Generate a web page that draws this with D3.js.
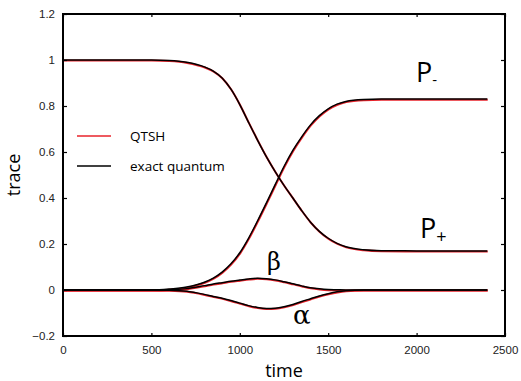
<!DOCTYPE html>
<html>
<head>
<meta charset="utf-8">
<script src="https://cdn.jsdelivr.net/npm/d3@7"></script>
<style>
  body { margin: 0; background: #fff; }
  .tick text { font-family: "Liberation Sans", Arial, sans-serif; font-size: 11.5px; fill: #222; }
</style>
</head>
<body>
<div class="chart"></div>
<script>
// values
const times = [0, 500, 600, 700, 800, 850, 900, 950, 1000, 1050, 1100, 1150, 1200, 1250, 1300, 1350, 1400, 1450, 1500, 1550, 1600, 1700, 1800, 2000, 2400];
const pMinus = [0, 0, 0.004, 0.013, 0.034, 0.052, 0.078, 0.114, 0.162, 0.226, 0.30, 0.378, 0.458, 0.537, 0.607, 0.666, 0.718, 0.758, 0.788, 0.808, 0.82, 0.828, 0.83, 0.83, 0.83];
const pPlus = [1, 1, 0.998, 0.99, 0.97, 0.952, 0.922, 0.873, 0.806, 0.728, 0.652, 0.58, 0.515, 0.455, 0.40, 0.345, 0.295, 0.255, 0.225, 0.203, 0.188, 0.175, 0.171, 0.17, 0.17];
const beta = [0, 0, 0.001, 0.006, 0.019, 0.026, 0.032, 0.038, 0.043, 0.048, 0.051, 0.049, 0.044, 0.036, 0.027, 0.018, 0.01, 0.005, 0.002, 0.001, 0, 0, 0, 0, 0];
const alpha = [0, 0, -0.001, -0.005, -0.019, -0.028, -0.036, -0.046, -0.057, -0.068, -0.076, -0.08, -0.079, -0.073, -0.063, -0.05, -0.038, -0.026, -0.016, -0.008, -0.003, 0, 0, 0, 0];
const xTicks = [0, 500, 1000, 1500, 2000, 2500];
const yTicks = [-0.2, 0, 0.2, 0.4, 0.6, 0.8, 1, 1.2];
const seriesNames = ['QTSH', 'exact quantum'];
const seriesColors = ['#e8232b', '#000'];

const w = 521;
const h = 381;
const padding = { top: 14, right: 16, bottom: 45, left: 63 };

const xScale = d3.scaleLinear().domain([0, 2500]).range([padding.left, w - padding.right]);
const yScale = d3.scaleLinear().domain([-0.2, 1.2]).range([h - padding.bottom, padding.top]);

const svg = d3.select('.chart').append('svg').attr('width', w).attr('height', h);

const curves = [pMinus, pPlus, beta, alpha];
const line = d3.line()
  .x((d, i) => xScale(times[i]))
  .y((d) => yScale(d))
  .curve(d3.curveMonotoneX);

// QTSH (red) under exact quantum (black)
svg.append('g').attr('transform', 'translate(0.4, 0.6)')
  .selectAll('path').data(curves).join('path')
  .attr('d', line).attr('fill', 'none')
  .attr('stroke', seriesColors[0]).attr('stroke-width', 2);
svg.append('g')
  .selectAll('path').data(curves).join('path')
  .attr('d', line).attr('fill', 'none')
  .attr('stroke', seriesColors[1]).attr('stroke-width', 1.5);

// axes with inward ticks, mirrored
const fmt = (d) => d3.format('')(+d.toFixed(1));
svg.append('g')
  .attr('transform', `translate(0, ${h - padding.bottom})`)
  .call(d3.axisBottom(xScale).tickValues(xTicks).tickSize(-3).tickPadding(10).tickFormat(d3.format('d')));
svg.append('g')
  .attr('transform', `translate(0, ${padding.top})`)
  .call(d3.axisTop(xScale).tickValues(xTicks).tickSize(-3).tickFormat(''));
svg.append('g')
  .attr('transform', `translate(${padding.left}, 0)`)
  .call(d3.axisLeft(yScale).tickValues(yTicks).tickSize(-4).tickPadding(8).tickFormat(fmt));
svg.append('g')
  .attr('transform', `translate(${w - padding.right}, 0)`)
  .call(d3.axisRight(yScale).tickValues(yTicks).tickSize(-4).tickFormat(''));
svg.selectAll('.domain').remove();
svg.selectAll('.tick line').attr('stroke', '#000').attr('stroke-width', 1.2);

svg.append('rect')
  .attr('x', padding.left).attr('y', padding.top)
  .attr('width', w - padding.left - padding.right)
  .attr('height', h - padding.top - padding.bottom)
  .attr('fill', 'none').attr('stroke', '#000').attr('stroke-width', 2);

// axis titles
svg.append('text')
  .attr('x', xScale(1250)).attr('y', 377)
  .attr('text-anchor', 'middle')
  .style('font-family', 'Open Sans, sans-serif').style('font-size', '18px')
  .text('time');
svg.append('text')
  .attr('transform', `translate(20, ${yScale(0.5)}) rotate(-90)`)
  .attr('text-anchor', 'middle')
  .style('font-family', 'Open Sans, sans-serif').style('font-size', '18px')
  .text('trace');

// legend
const legend = svg.append('g');
seriesNames.forEach((name, i) => {
  const y = 136 + i * 30;
  legend.append('line')
    .attr('x1', 77).attr('x2', 111).attr('y1', y).attr('y2', y)
    .attr('stroke', seriesColors[i]).attr('stroke-width', 1.5);
  legend.append('text')
    .attr('x', 130).attr('y', y + 4.5)
    .style('font-family', 'Open Sans, sans-serif').style('font-size', '13.5px')
    .text(name);
});

// curve labels
const labelFont = 'Open Sans, sans-serif';
const pm = svg.append('text').attr('x', 416).attr('y', 82)
  .style('font-family', labelFont).style('font-size', '27px');
pm.append('tspan').text('P');
pm.append('tspan').attr('dy', 3).style('font-size', '15px').text('-');
const pp = svg.append('text').attr('x', 420).attr('y', 238)
  .style('font-family', labelFont).style('font-size', '27px');
pp.append('tspan').text('P');
pp.append('tspan').attr('dy', 5).style('font-size', '18px').text('+');
svg.append('text').attr('x', 267).attr('y', 270)
  .style('font-family', 'DejaVu Serif, serif').style('font-size', '24px')
  .text('β');
svg.append('text').attr('x', 293).attr('y', 324)
  .style('font-family', 'DejaVu Serif, serif').style('font-size', '26px')
  .text('α');
</script>
</body>
</html>
